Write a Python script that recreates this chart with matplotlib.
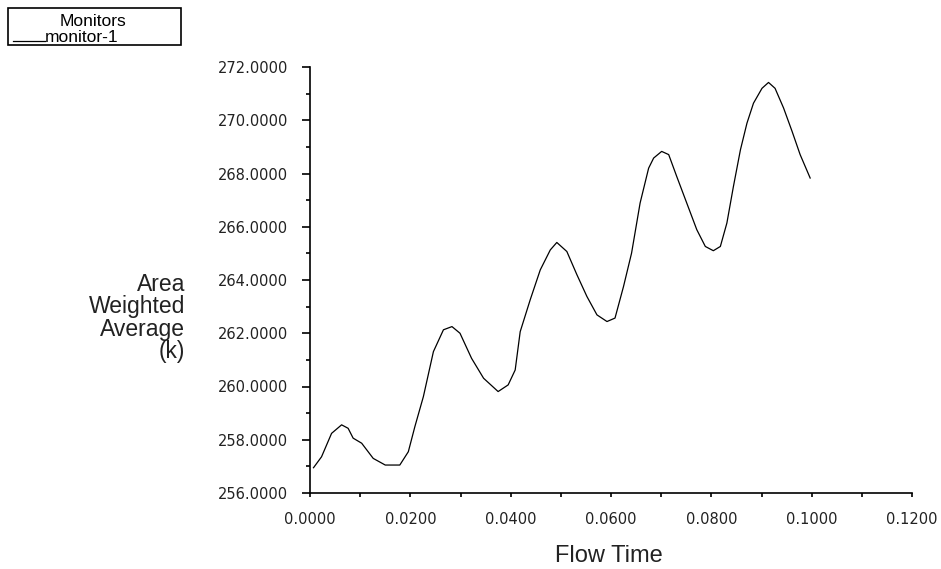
import numpy as np
import matplotlib.pyplot as plt
from matplotlib.patches import Rectangle
from matplotlib.lines import Line2D
from matplotlib.ticker import MultipleLocator, FormatStrFormatter

# monitor-1 trace
flow_time = [0.0007, 0.0023, 0.0043, 0.0063, 0.0076, 0.0086, 0.0103, 0.0126,
             0.0150, 0.0179, 0.0196, 0.0209, 0.0226, 0.0246, 0.0266, 0.0283,
             0.0299, 0.0322, 0.0346, 0.0375, 0.0395, 0.0409, 0.0419, 0.0439,
             0.0459, 0.0479, 0.0492, 0.0512, 0.0532, 0.0552, 0.0572, 0.0592,
             0.0608, 0.0625, 0.0641, 0.0658, 0.0675, 0.0685, 0.0701, 0.0715,
             0.0731, 0.0751, 0.0771, 0.0788, 0.0804, 0.0818, 0.0831, 0.0844,
             0.0858, 0.0871, 0.0884, 0.0901, 0.0914, 0.0927, 0.0944, 0.0961,
             0.0977, 0.0997]
temperature = [256.95, 257.36, 258.24, 258.56, 258.43, 258.06, 257.87, 257.30,
               257.05, 257.05, 257.55, 258.49, 259.62, 261.31, 262.13, 262.25,
               262.00, 261.06, 260.31, 259.81, 260.06, 260.62, 262.06, 263.26,
               264.38, 265.13, 265.41, 265.07, 264.20, 263.38, 262.69, 262.44,
               262.57, 263.76, 265.01, 266.89, 268.20, 268.58, 268.83, 268.71,
               267.89, 266.89, 265.89, 265.26, 265.10, 265.26, 266.14, 267.51,
               268.89, 269.89, 270.64, 271.20, 271.42, 271.20, 270.46, 269.58,
               268.71, 267.83]

x_label = 'Flow Time'
y_label = 'Area\nWeighted\nAverage\n(k)'
legend_title = 'Monitors'
series_name = 'monitor-1'

W, H = 941, 569
fig = plt.figure(figsize=(W / 100, H / 100), dpi=100)
ax = fig.add_axes([310 / W, 1 - 493 / H, 602 / W, 426 / H])

ax.plot(flow_time, temperature, color='black', linewidth=0.9)

ax.set_xlim(0, 0.12)
ax.set_ylim(256, 272)
ax.xaxis.set_major_locator(MultipleLocator(0.02))
ax.xaxis.set_minor_locator(MultipleLocator(0.01))
ax.yaxis.set_major_locator(MultipleLocator(2))
ax.yaxis.set_minor_locator(MultipleLocator(1))
ax.xaxis.set_major_formatter(FormatStrFormatter('%.4f'))
ax.yaxis.set_major_formatter(FormatStrFormatter('%.4f'))

for s in ['top', 'right']:
    ax.spines[s].set_visible(False)
for s in ['left', 'bottom']:
    ax.spines[s].set_linewidth(1.2)

ax.tick_params(axis='y', which='major', direction='out', length=6, width=1.2,
               pad=10, labelsize=10.5, labelcolor='#222222')
ax.tick_params(axis='y', which='minor', direction='out', length=3, width=1.2)
ax.tick_params(axis='x', which='major', direction='out', length=3, width=1.2,
               pad=11, labelsize=10.5, labelcolor='#222222')
ax.tick_params(axis='x', which='minor', direction='out', length=3, width=1.2)

fig.text(609 / W, 1 - 556 / H, x_label, ha='center', va='center',
         fontsize=17, family='Liberation Sans', color='#222222')
fig.text(185 / W, 1 - 318 / H, y_label, ha='right', va='center',
         fontsize=16.5, family='Liberation Sans', color='#222222',
         multialignment='right', linespacing=0.95)

# legend box in the top-left corner
fig.patches.append(Rectangle((8 / W, 1 - 45 / H), 173 / W, 37 / H,
                             transform=fig.transFigure, fill=False,
                             edgecolor='black', linewidth=1.2))
fig.text(93 / W, 1 - 21 / H, legend_title, ha='center', va='center',
         fontsize=12.5, family='Liberation Sans')
fig.lines.append(Line2D([13 / W, 45 / W], [1 - 41 / H, 1 - 41 / H],
                        transform=fig.transFigure, color='black', linewidth=0.9))
fig.text(45 / W, 1 - 38 / H, series_name, ha='left', va='center',
         fontsize=12.5, family='Liberation Sans')

fig.savefig('out.png', dpi=100)
